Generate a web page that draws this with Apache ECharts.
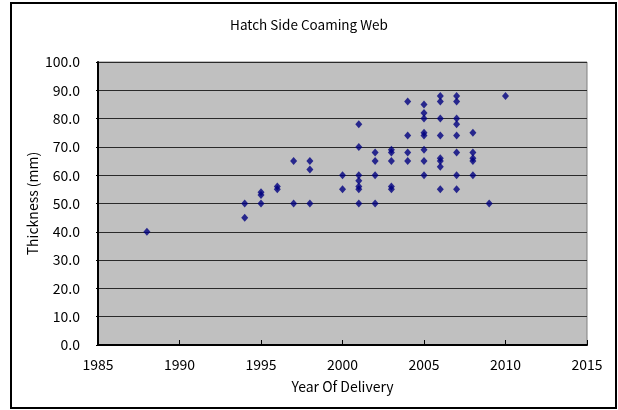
<!DOCTYPE html>
<html>
<head>
<meta charset="utf-8">
<script src="https://cdn.jsdelivr.net/npm/echarts@6/dist/echarts.min.js"></script>
<style>
  html, body { margin: 0; padding: 0; background: #fff; }
  #chart { width: 618px; height: 410px; }
</style>
</head>
<body>
<div id="chart"></div>
<script>
// Hatch side coaming web thickness by year of delivery (one entry per ship)
const deliveryYears = [
  1988,
  1994, 1994,
  1995, 1995, 1995,
  1996, 1996,
  1997, 1997,
  1998, 1998, 1998,
  2000, 2000,
  2001, 2001, 2001, 2001, 2001, 2001, 2001,
  2002, 2002, 2002, 2002,
  2003, 2003, 2003, 2003, 2003,
  2004, 2004, 2004, 2004,
  2005, 2005, 2005, 2005, 2005, 2005, 2005, 2005,
  2006, 2006, 2006, 2006, 2006, 2006, 2006, 2006,
  2007, 2007, 2007, 2007, 2007, 2007, 2007, 2007,
  2008, 2008, 2008, 2008, 2008,
  2009,
  2010
];
const thicknessMm = [
  40,
  50, 45,
  54, 53, 50,
  56, 55,
  65, 50,
  65, 62, 50,
  60, 55,
  78, 70, 60, 58, 56, 55, 50,
  68, 65, 60, 50,
  69, 68, 65, 56, 55,
  86, 74, 68, 65,
  85, 82, 80, 75, 74, 69, 65, 60,
  88, 86, 80, 74, 66, 65, 63, 55,
  88, 86, 80, 78, 74, 68, 60, 55,
  75, 68, 66, 65, 60,
  50,
  88
];

const chartTitle = 'Hatch Side Coaming Web';
const xAxisTitle = 'Year Of Delivery';
const yAxisTitle = 'Thickness (mm)';

const FONT = '"Noto Sans CJK JP", "Noto Sans", sans-serif';

const points = deliveryYears.map((y, i) => [y, thicknessMm[i]]);

const chart = echarts.init(document.getElementById('chart'), null, { renderer: 'canvas' });

chart.setOption({
  backgroundColor: '#ffffff',
  animation: false,
  title: {
    text: chartTitle,
    left: 'center',
    top: 13,
    textStyle: { fontFamily: FONT, fontSize: 13.5, fontWeight: 'normal', color: '#000' }
  },
  grid: {
    left: 98,
    right: 31,
    top: 62,
    bottom: 65,
    show: true,
    backgroundColor: '#c0c0c0',
    borderColor: '#808080',
    borderWidth: 1
  },
  xAxis: {
    type: 'value',
    min: 1985,
    max: 2015,
    interval: 5,
    name: xAxisTitle,
    nameLocation: 'middle',
    nameGap: 35,
    nameMoveOverlap: false,
    nameTextStyle: { fontFamily: FONT, fontSize: 14, color: '#000' },
    axisLine: { show: true, onZero: false, lineStyle: { color: '#000', width: 2 } },
    axisTick: { show: true, inside: true, length: 5, lineStyle: { color: '#000', width: 1 } },
    axisLabel: {
      margin: 13,
      fontFamily: FONT,
      fontSize: 14,
      color: '#000',
      formatter: v => String(v)
    },
    splitLine: { show: false }
  },
  yAxis: {
    type: 'value',
    min: 0,
    max: 100,
    interval: 10,
    name: yAxisTitle,
    nameLocation: 'middle',
    nameGap: 58,
    nameMoveOverlap: false,
    nameTextStyle: { fontFamily: FONT, fontSize: 14, color: '#000' },
    axisLine: { show: true, onZero: false, lineStyle: { color: '#000', width: 2 } },
    axisTick: { show: true, inside: false, length: 2, lineStyle: { color: '#000', width: 1 } },
    axisLabel: {
      margin: 18,
      fontFamily: FONT,
      fontSize: 14,
      color: '#000',
      formatter: v => v.toFixed(1)
    },
    splitLine: { show: true, lineStyle: { color: '#2a2a2a', width: 1 } }
  },
  graphic: [{
    type: 'rect',
    z: -10,
    shape: { x: 11, y: 3, width: 605, height: 405 },
    style: { fill: 'none', stroke: '#000', lineWidth: 2 }
  }],
  series: [{
    type: 'scatter',
    data: points,
    symbol: 'diamond',
    symbolSize: [7, 8],
    itemStyle: { color: '#000080' },
    z: 5
  }]
});
</script>
</body>
</html>
